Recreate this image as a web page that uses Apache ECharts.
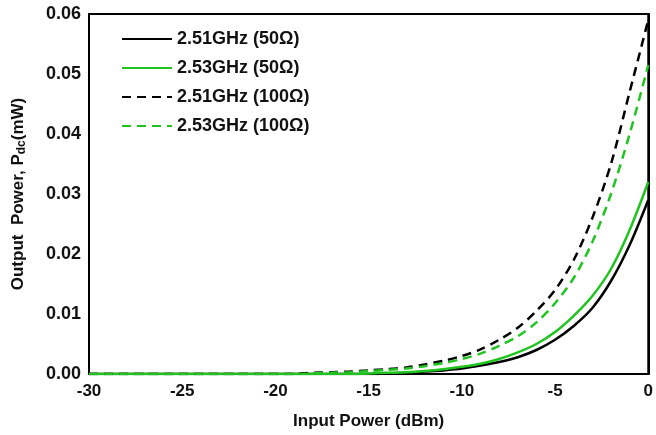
<!DOCTYPE html>
<html>
<head>
<meta charset="utf-8">
<script src="https://cdn.jsdelivr.net/npm/echarts@6/dist/echarts.min.js"></script>
<style>
  html, body { margin: 0; padding: 0; background: #fff; }
  #main { width: 656px; height: 435px; }
</style>
</head>
<body>
<div id="main"></div>
<script>
// input power (dBm), one point per dBm
var inputPower = [-30,-29,-28,-27,-26,-25,-24,-23,-22,-21,-20,-19,-18,-17,-16,-15,-14,-13,-12,-11,-10,-9,-8,-7,-6,-5,-4,-3,-2,-1,0];

// output power Pdc (mW)
var p251_50 = [0,0,0,0,0,0,0,0,0,0,0,0,0,0,0,0,0.0001,0.0002,0.0004,0.0006,0.0009,0.0014,0.0020,0.0028,0.0040,0.0057,0.0080,0.0110,0.0155,0.0215,0.0290];
var p253_50 = [0,0,0,0,0,0,0,0,0,0,0,0,0,0,0,0.0001,0.0002,0.0003,0.0005,0.0008,0.0012,0.0017,0.0025,0.0036,0.0050,0.0070,0.0097,0.0130,0.0175,0.0240,0.0320];
var p251_100 = [0,0,0,0,0,0,0,0,0,0,0,0,0.0002,0.0003,0.0004,0.0006,0.0008,0.0011,0.0016,0.0022,0.0030,0.0041,0.0057,0.0077,0.0105,0.0140,0.0190,0.0260,0.0350,0.0470,0.0590];
var p253_100 = [0,0,0,0,0,0,0,0,0,0,0,0,0.0001,0.0002,0.0003,0.0005,0.0007,0.0009,0.0013,0.0018,0.0025,0.0034,0.0047,0.0063,0.0086,0.0118,0.0160,0.0220,0.0300,0.0400,0.0515];

var seriesNames = ['2.51GHz (50\u03A9)', '2.53GHz (50\u03A9)', '2.51GHz (100\u03A9)', '2.53GHz (100\u03A9)'];
var xTicks = [-30, -25, -20, -15, -10, -5, 0];

var green = '#1fc41f';
var font = 'Liberation Sans';

function pairs(ys) {
  return inputPower.map(function (x, i) { return [x, ys[i]]; });
}

function makeSeries(name, ys, color, dashed) {
  return {
    name: name,
    type: 'line',
    data: pairs(ys),
    symbol: 'none',
    smooth: 0.3,
    lineStyle: { color: color, width: 2.5, type: dashed ? [9, 6] : 'solid' },
    itemStyle: { color: color },
    z: dashed ? 3 : 2
  };
}

var myChart = echarts.init(document.getElementById('main'));

var option = {
  animation: false,
  backgroundColor: '#fff',
  grid: {
    left: 89, right: 4, top: 14, bottom: 59,
    show: true, borderColor: '#000', borderWidth: 2
  },
  legend: {
    orient: 'vertical',
    left: 116, top: 25,
    itemWidth: 50, itemHeight: 14, itemGap: 11,
    itemStyle: { opacity: 0 },
    data: seriesNames,
    textStyle: { fontFamily: font, fontWeight: 'bold', fontSize: 18, color: '#111' }
  },
  xAxis: {
    type: 'value',
    min: -30, max: 0, interval: 5,
    name: 'Input Power (dBm)',
    nameLocation: 'middle',
    nameGap: 39,
    nameTextStyle: { fontFamily: font, fontWeight: 'bold', fontSize: 17, color: '#111' },
    axisLine: { show: true, lineStyle: { color: '#000', width: 2 } },
    axisTick: { show: false },
    splitLine: { show: false },
    axisLabel: {
      margin: 9,
      fontFamily: font, fontWeight: 'bold', fontSize: 17, color: '#111',
      formatter: function (v) { return xTicks.indexOf(v) >= 0 ? String(v) : ''; }
    }
  },
  yAxis: {
    type: 'value',
    min: 0, max: 0.06, interval: 0.01,
    name: 'Output  Power, P{sub|dc}(mW)',
    nameLocation: 'middle',
    nameRotate: 90,
    nameGap: 61,
    nameTextStyle: {
      fontFamily: font, fontWeight: 'bold', fontSize: 17, color: '#111',
      rich: {
        sub: { fontFamily: font, fontWeight: 'bold', fontSize: 12, color: '#111', verticalAlign: 'bottom', padding: [7, 0, 0, 0] }
      }
    },
    axisLine: { show: true, lineStyle: { color: '#000', width: 2 } },
    axisTick: { show: false },
    splitLine: { show: false },
    axisLabel: {
      margin: 8,
      fontFamily: font, fontWeight: 'bold', fontSize: 18, color: '#111',
      formatter: function (v) { return v.toFixed(2); }
    }
  },
  series: [
    makeSeries(seriesNames[0], p251_50, '#000', false),
    makeSeries(seriesNames[1], p253_50, green, false),
    makeSeries(seriesNames[2], p251_100, '#000', true),
    makeSeries(seriesNames[3], p253_100, green, true)
  ]
};

myChart.setOption(option);
</script>
</body>
</html>
